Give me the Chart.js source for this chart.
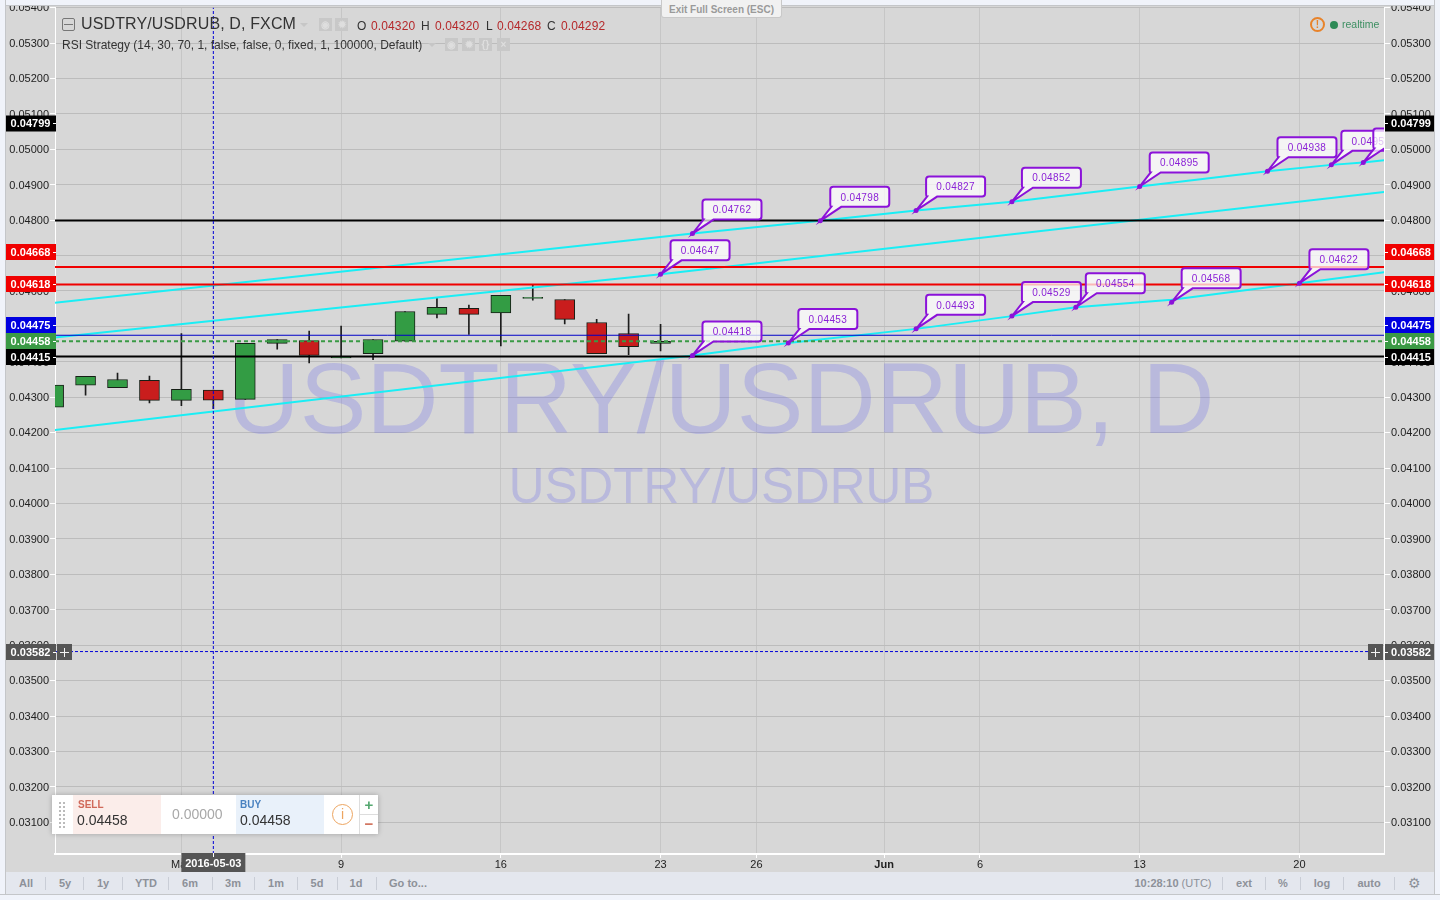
<!DOCTYPE html>
<html><head><meta charset="utf-8">
<script src="https://cdn.jsdelivr.net/npm/chart.js@4"></script>
<style>
html,body{margin:0;padding:0;width:1440px;height:900px;overflow:hidden;background:#f0f3fa;font-family:"Liberation Sans",Arial,sans-serif}
#wrap{position:absolute;left:0;top:0;width:1440px;height:900px;background:#d7d7d7}
canvas{position:absolute;left:0;top:0}
.a{position:absolute;white-space:nowrap}
.frame{position:absolute;background:#f0f3fa}
.ic{position:absolute;background:#c8c8c8;width:13px;height:13px;color:#dedede;text-align:center;font:bold 10px/13px "Liberation Sans",Arial,sans-serif;overflow:hidden}
.tri{position:absolute;width:0;height:0;border-left:4px solid transparent;border-right:4px solid transparent;border-top:4px solid #c6c6c6}
.sep{position:absolute;top:877px;width:1px;height:13px;background:#c9cdd6}
.tb{position:absolute;top:877px;font:bold 11px "Liberation Sans",Arial,sans-serif;color:#8d9199;transform:translateX(-50%);line-height:13px;white-space:nowrap}
.hd{position:absolute;top:19px;font-size:12px;line-height:14px;color:#333;white-space:nowrap}
.rd{color:#b5282a;letter-spacing:.12px}
.dots{position:absolute;top:802px;width:2px;height:26px;background:repeating-linear-gradient(#bbb 0 2px,transparent 2px 4px)}
</style></head><body>
<div id="wrap"><canvas id="c" width="1440" height="900"></canvas>
<div class="frame" style="left:0;top:0;width:1440px;height:5px;border-bottom:1px solid #c4c6c9"></div>
<div class="frame" style="left:0;top:0;width:5px;height:900px;border-right:1px solid #c4c6c9"></div>
<div class="frame" style="left:1434px;top:0;width:6px;height:900px;border-left:1px solid #c4c6c9"></div>
<div class="frame" style="left:0;top:894px;width:1440px;height:6px;border-top:1px solid #c4c6c9"></div>
<div class="a" style="left:6px;top:872px;width:1428px;height:22px;background:#e4e7ee"></div>

<div class="a" style="left:661px;top:0;width:121px;height:18px;background:#f1f1f1;border:1px solid #c9c9c9;border-top:none;box-sizing:border-box;border-radius:0 0 3px 3px;font:bold 10px 'Liberation Sans';color:#9a9a9a;text-align:center;line-height:19px">Exit Full Screen (ESC)</div>

<div class="a" style="left:62px;top:18px;width:11px;height:11px;border:1px solid #777;border-radius:2px"><div style="position:absolute;left:1px;top:5px;width:9px;height:1px;background:#777"></div></div>
<div class="a" style="left:81px;top:15px;font-size:16px;line-height:18px;color:#333;letter-spacing:.13px">USDTRY/USDRUB, D, FXCM</div>
<div class="tri" style="left:300px;top:23px"></div>
<div class="ic" style="left:319px;top:18px">◉</div><div class="ic" style="left:335px;top:18px">✹</div>
<div class="hd" style="left:357px">O</div><div class="hd rd" style="left:371px">0.04320</div>
<div class="hd" style="left:421px">H</div><div class="hd rd" style="left:435px">0.04320</div>
<div class="hd" style="left:486px">L</div><div class="hd rd" style="left:497px">0.04268</div>
<div class="hd" style="left:547px">C</div><div class="hd rd" style="left:561px">0.04292</div>
<div class="a" style="left:62px;top:38px;font-size:12px;line-height:14px;color:#333">RSI Strategy (14, 30, 70, 1, false, false, 0, fixed, 1, 100000, Default)</div>
<div class="tri" style="left:428px;top:43px"></div>
<div class="ic" style="left:445px;top:38px">◉</div><div class="ic" style="left:462px;top:38px">✹</div><div class="ic" style="left:479px;top:38px">{}</div><div class="ic" style="left:497px;top:38px">×</div>

<div class="a" style="left:1310px;top:17px;width:11px;height:11px;border:2px solid #e8832a;border-radius:50%;color:#e8832a;font:bold 10px 'Liberation Sans';text-align:center;line-height:11px">!</div>
<div class="a" style="left:1330px;top:21px;width:8px;height:8px;border-radius:50%;background:#2e8b57"></div>
<div class="a" style="left:1342px;top:18px;font-size:10.5px;line-height:12px;color:#3d8f62">realtime</div>

<!-- trade panel -->
<div class="a" style="left:52px;top:795px;width:326px;height:39px;background:#fff;box-shadow:0 0 5px rgba(0,0,0,.25)"></div>
<div class="dots" style="left:59px"></div><div class="dots" style="left:63px"></div>
<div class="a" style="left:73px;top:795px;width:88px;height:39px;background:#fbedea"></div>
<div class="a" style="left:236px;top:795px;width:88px;height:39px;background:#e9f1fa"></div>
<div class="a" style="left:78px;top:799px;font:bold 10px/12px 'Liberation Sans';color:#d0695a">SELL</div>
<div class="a" style="left:77px;top:812px;font-size:14px;line-height:16px;color:#333">0.04458</div>
<div class="a" style="left:172px;top:806px;font-size:14px;line-height:16px;color:#a8a8a8">0.00000</div>
<div class="a" style="left:240px;top:799px;font:bold 10px/12px 'Liberation Sans';color:#4a82c0">BUY</div>
<div class="a" style="left:240px;top:812px;font-size:14px;line-height:16px;color:#333">0.04458</div>
<div class="a" style="left:332px;top:804px;width:19px;height:19px;border:1px solid #eda560;border-radius:50%;color:#eda560;font-size:14px;line-height:19px;text-align:center">i</div>
<div class="a" style="left:359px;top:795px;width:1px;height:39px;background:#ddd"></div>
<div class="a" style="left:360px;top:814px;width:18px;height:1px;background:#ddd"></div>
<div class="a" style="left:360px;top:796px;width:18px;font:bold 15px/18px 'Liberation Sans';color:#55a870;text-align:center">+</div>
<div class="a" style="left:360px;top:815px;width:18px;font:bold 15px/18px 'Liberation Sans';color:#d0705a;text-align:center">−</div>

<!-- toolbar -->
<div class="tb" style="left:26px">All</div><div class="sep" style="left:45px"></div>
<div class="tb" style="left:65px">5y</div><div class="sep" style="left:83px"></div>
<div class="tb" style="left:103px">1y</div><div class="sep" style="left:122px"></div>
<div class="tb" style="left:146px">YTD</div><div class="sep" style="left:168px"></div>
<div class="tb" style="left:190px">6m</div><div class="sep" style="left:212px"></div>
<div class="tb" style="left:233px">3m</div><div class="sep" style="left:254px"></div>
<div class="tb" style="left:276px">1m</div><div class="sep" style="left:297px"></div>
<div class="tb" style="left:317px">5d</div><div class="sep" style="left:337px"></div>
<div class="tb" style="left:356px">1d</div><div class="sep" style="left:376px"></div>
<div class="tb" style="left:408px">Go to...</div>
<div class="tb" style="left:1173px"><span>10:28:10</span> <span style="font-weight:normal">(UTC)</span></div>
<div class="sep" style="left:1222px"></div><div class="tb" style="left:1244px">ext</div>
<div class="sep" style="left:1265px"></div><div class="tb" style="left:1283px">%</div>
<div class="sep" style="left:1300px"></div><div class="tb" style="left:1322px">log</div>
<div class="sep" style="left:1343px"></div><div class="tb" style="left:1369px">auto</div>
<div class="sep" style="left:1394px"></div><div class="tb" style="left:1414px;font-size:14px;font-weight:normal">⚙</div>
</div>
<script>
// ---- data ----
const barIndex = [-4,-3,-2,-1,0,1,2,3,4,5,6,7,8,9,10,11,12,13,14,15];
const opens  = [.04272,.04334,.04327,.04348,.04291,.04320,.04294,.04452,.04460,.04411,.04423,.04458,.04534,.04551,.04538,.04579,.04576,.04511,.04480,.04452];
const highs  = [.04334,.04359,.04368,.04360,.04480,.04320,.04452,.04463,.04487,.04501,.04463,.04542,.04582,.04560,.04588,.04619,.04576,.04520,.04535,.04506];
const lows   = [.04272,.04306,.04327,.04284,.04276,.04268,.04294,.04436,.04397,.04411,.04406,.04458,.04524,.04477,.04445,.04574,.04507,.04423,.04420,.04431];
const closes = [.04334,.04359,.04350,.04291,.04322,.04292,.04452,.04463,.04418,.04414,.04463,.04542,.04554,.04534,.04588,.04582,.04520,.04423,.04443,.04458];

const trend1X = [-4,16,20,23,26,30,34,36,37,38];
const trend1Y = [.04566,.04762,.04798,.04827,.04852,.04895,.04938,.04956,.04963,.04972];
const trend2X = [-4,1,15,38];
const trend2Y = [.04468,.04516,.04647,.04883];
const trend3X = [-4,16,19,23,26,28,31,35,38];
const trend3Y = [.04207,.04418,.04453,.04493,.04529,.04554,.04575,.04622,.04657];

const calloutX = [16,20,23,26,30,34,15,16,19,23,26,28,31,35,36,37];
const calloutY = [.04762,.04798,.04827,.04852,.04895,.04938,.04647,.04418,.04453,.04493,.04529,.04554,.04568,.04622,.04956,.04963];

const priceLineValues = [.04799,.04668,.04618,.04475,.04458,.04415];
const priceLineColors = ['#000','#f00000','#f00000','#0000c8','#3a9a45','#000'];
const priceLabelNames = ['0.04799','0.04668','0.04618','0.04475','0.04458','0.04415'];
const crossValue = .03582, crossIndex = 1;

const tickIndexes = [0,5,10,15,18,22,25,30,35];
const tickLabels  = ['May','9','16','23','26','Jun','6','13','20'];
const crossDate = '2016-05-03';

// ---- layout / style ----
const AREA = {l:56,r:1384,t:6,b:853};
const Y_MIN = .030105, Y_MAX = .054, X_MIN = -3.957, X_MAX = 37.648;
const priceLabelCenters = [123.5,252,284,325,341,357];
const FONT = '"Liberation Sans",Arial,sans-serif';
const zip = (xs,ys)=>xs.map((x,i)=>({x,y:ys[i]}));
const lineDs = (data,color,width,order,extra={})=>({type:'line',data,borderColor:color,borderWidth:width,pointRadius:0,tension:0,order,...extra});

const wmPlugin = {id:'watermark',beforeDatasetsDraw(c){
  const g=c.ctx;g.save();g.fillStyle='rgba(95,95,235,.25)';g.textAlign='center';g.textBaseline='alphabetic';
  g.font='100px '+FONT;g.fillText('USDTRY/USDRUB, D',721,433);
  g.font='49.5px '+FONT;g.fillText('USDTRY/USDRUB',721.5,503);
  g.restore();
}};

const overlayPlugin = {id:'overlay',afterDatasetsDraw(c){
  const g=c.ctx,sx=c.scales.x,sy=c.scales.y;
  g.save();g.beginPath();g.rect(AREA.l,AREA.t,AREA.r-AREA.l,AREA.b-AREA.t);g.clip();
  calloutX.forEach((xv,i)=>{
    const ax=sx.getPixelForValue(xv),ay=sy.getPixelForValue(calloutY[i]);
    const x=ax+10,y=ay-34,w=59,h=20,r=3;
    g.beginPath();
    g.moveTo(x+r,y);g.lineTo(x+w-r,y);g.quadraticCurveTo(x+w,y,x+w,y+r);g.lineTo(x+w,y+h-r);g.quadraticCurveTo(x+w,y+h,x+w-r,y+h);
    g.lineTo(x+11,y+h);g.lineTo(ax,ay);g.lineTo(x+1,y+h);g.quadraticCurveTo(x,y+h,x,y+h-r);
    g.lineTo(x,y+r);g.quadraticCurveTo(x,y,x+r,y);g.closePath();
    g.fillStyle='rgba(255,255,255,.72)';g.fill();
    g.strokeStyle='#8b12d9';g.lineWidth=2;g.stroke();
    g.fillStyle='#8b12d9';g.beginPath();g.arc(ax,ay,2.5,0,7);g.fill();
    g.font='10px '+FONT;g.letterSpacing='0.35px';g.textAlign='center';g.textBaseline='middle';g.fillStyle='#8b22d6';
    g.fillText(calloutY[i].toFixed(5),x+w/2,y+h/2+1);
    g.letterSpacing='0px';
  });
  g.restore();
},afterDraw(c){
  const g=c.ctx,sy=c.scales.y,sx=c.scales.x;
  g.save();
  const tag=(left,cy,col,txt)=>{
    const x=left?6:1385,w=left?50:49;
    g.fillStyle=col;g.fillRect(x,cy-8,w,16);
    g.fillStyle='#fff';g.font='bold 11px '+FONT;g.textAlign='center';g.textBaseline='middle';
    g.fillText(txt,left?30.5:1411,cy+.5);
    g.fillRect(left?53:1385,Math.floor(cy),3,1);
  };
  priceLineValues.forEach((v,i)=>{const col=priceLineColors[i]==='#0000c8'?'#0000e0':priceLineColors[i];
    tag(true,priceLabelCenters[i],col,priceLabelNames[i]);tag(false,priceLabelCenters[i],col,priceLabelNames[i]);});
  const cy=Math.round(sy.getPixelForValue(crossValue)+.6);
  tag(true,cy,'#555',crossValue.toFixed(5));tag(false,cy,'#555',crossValue.toFixed(5));
  g.fillStyle='#555';g.fillRect(57,cy-8,15,16);g.fillRect(1368,cy-8,15,16);
  g.fillStyle='#f4f4f4';g.fillRect(60,cy,9,1);g.fillRect(64,cy-4,1,9);g.fillRect(1371,cy,9,1);g.fillRect(1375,cy-4,1,9);
  const dx=sx.getPixelForValue(crossIndex);
  g.fillStyle='#555';g.fillRect(dx-32,853,64,19);
  g.fillStyle='#fff';g.fillRect(Math.round(dx),853,1,4);
  g.font='bold 11px '+FONT;g.textAlign='center';g.textBaseline='middle';g.fillText(crossDate,dx,864);
  g.restore();
}};

// the reference sets its axis labels about a pixel below their grid lines
const nudgeLabels = s=>{
  if(s.$nudged) return; s.$nudged=true;
  const f=s._computeLabelItems;
  s._computeLabelItems=function(a){const items=f.call(this,a);items.forEach(i=>{i.options.translation[1]+=.8});return items};
};
const yCommon = {type:'linear',min:Y_MIN,max:Y_MAX,
  ticks:{stepSize:.001,includeBounds:false,color:'#222',font:{size:11,family:FONT},padding:1,callback:v=>Number(v).toFixed(5)},
  border:{color:'#fff',width:1}};

new Chart(document.getElementById('c'),{
  type:'bar',
  data:{datasets:[
    lineDs([{x:crossIndex,y:Y_MIN},{x:crossIndex,y:Y_MAX}],'#0000d8',1,1,{borderDash:[3,2]}),
    lineDs([{x:X_MIN,y:crossValue},{x:X_MAX,y:crossValue}],'#0000d8',1,1,{borderDash:[3,2]}),
    ...priceLineValues.map((v,i)=>lineDs([{x:X_MIN,y:v},{x:X_MAX,y:v}],priceLineColors[i],(i===3)?1:2,2,i===4?{borderDash:[4,3]}:{})),
    lineDs(zip(trend1X,trend1Y),'#1aeef5',2,3),
    lineDs(zip(trend2X,trend2Y),'#1aeef5',2,3),
    lineDs(zip(trend3X,trend3Y),'#1aeef5',2,3),
    {type:'bar',grouped:false,order:5,barThickness:20,borderWidth:1,borderColor:'#161f16',borderSkipped:false,
      data:barIndex.map((x,i)=>({x,y:[opens[i],closes[i]]})),
      backgroundColor:barIndex.map((x,i)=>closes[i]>=opens[i]?'#339c44':'#c91d1d')},
    {type:'bar',grouped:false,order:6,barThickness:1,backgroundColor:'#1c1c1c',borderWidth:0,
      data:barIndex.map((x,i)=>({x,y:[lows[i],highs[i]]}))}
  ]},
  plugins:[wmPlugin,overlayPlugin],
  options:{
    responsive:false,animation:false,maintainAspectRatio:false,
    layout:{padding:{top:AREA.t,left:0,right:0,bottom:0}},
    plugins:{legend:{display:false},tooltip:{enabled:false}},
    scales:{
      x:{type:'linear',offset:false,min:X_MIN,max:X_MAX,
        afterBuildTicks:s=>{s.ticks=tickIndexes.map(value=>({value}))},
        afterFit:s=>{s.height=46},
        grid:{color:'#c6c6c6',tickColor:'#fff',tickLength:4,offset:false},
        border:{color:'#fff',width:2},
        ticks:{autoSkip:false,maxRotation:0,padding:0,color:'#222',
          font:c=>({size:11,family:FONT,weight:c.tick&&c.tick.value===22?'bold':'normal'}),
          callback:v=>tickLabels[tickIndexes.indexOf(v)]}},
      y:{...yCommon,position:'left',afterFit:s=>{s.width=55;nudgeLabels(s)},grid:{color:'#bcbcbc',tickColor:'#fff',tickLength:5}},
      y2:{...yCommon,position:'right',display:true,afterFit:s=>{s.width=56;nudgeLabels(s)},grid:{drawOnChartArea:false,tickColor:'#fff',tickLength:6}}
    }
  }
});
</script></body></html>
